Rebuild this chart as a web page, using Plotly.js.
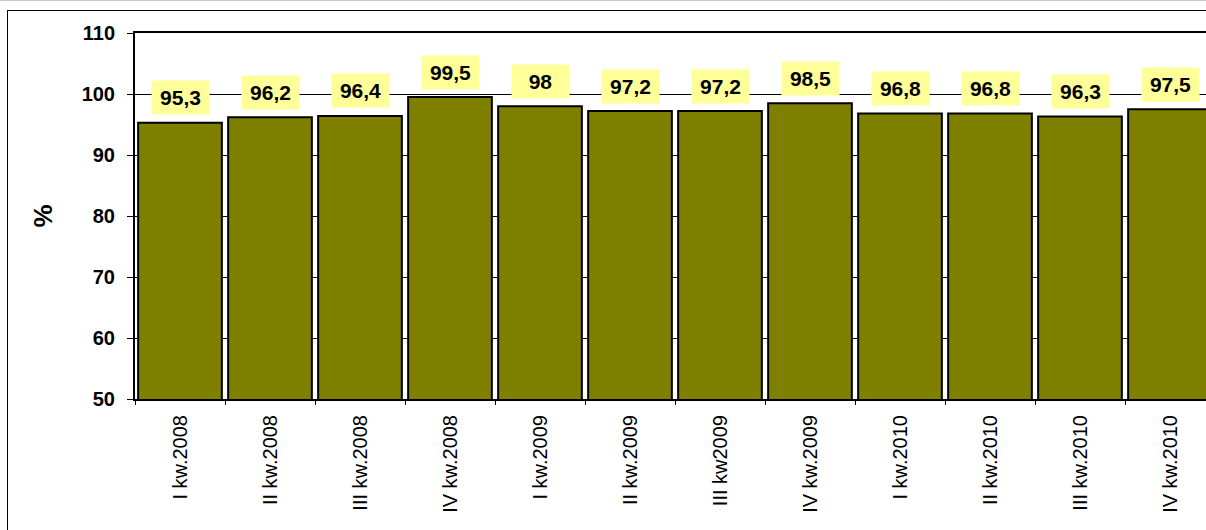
<!DOCTYPE html>
<html>
<head>
<meta charset="utf-8">
<script src="https://cdn.plot.ly/plotly-3.0.1.min.js"></script>
<style>
html, body { margin: 0; padding: 0; width: 1206px; height: 530px; overflow: hidden; background: #fff; }
#topline { position: absolute; left: 0; top: 0; width: 1206px; height: 1px; background: #c8c8c8; }
#frame { position: absolute; left: 7px; top: 10px; width: 1300px; height: 600px; border-left: 1.5px solid #000; border-top: 1.5px solid #000; }
#chart { position: absolute; left: 0; top: 0; width: 1230px; height: 530px; }
</style>
</head>
<body>
<div id="topline"></div>
<div id="frame"></div>
<div id="chart"></div>
<script>
const categories = ["I kw.2008", "II kw.2008", "III kw.2008", "IV kw.2008",
                    "I kw.2009", "II kw.2009", "III kw2009", "IV kw.2009",
                    "I kw.2010", "II kw.2010", "III kw.2010", "IV kw.2010"];
const values = [95.3, 96.2, 96.4, 99.5, 98, 97.2, 97.2, 98.5, 96.8, 96.8, 96.3, 97.5];
const yTicks = [50, 60, 70, 80, 90, 100, 110];
const yAxisTitle = "%";

const fmt = v => String(v).replace(".", ",");

const trace = {
  type: "bar",
  x: categories,
  y: values,
  marker: { color: "#808000", line: { color: "#000000", width: 2 } },
  hoverinfo: "skip"
};

const annotations = categories.map((c, i) => ({
  x: c, y: values[i], xref: "x", yref: "y",
  text: "<b>" + fmt(values[i]) + "</b>",
  showarrow: false,
  yanchor: "middle", xanchor: "center",
  yshift: 25,
  bgcolor: "#FFFF99",
  borderpad: 5,
  width: 47, height: 23,
  font: { family: "Liberation Sans, Arial, sans-serif", size: 21, color: "#000" }
}));

const layout = {
  width: 1230, height: 530,
  margin: { l: 135, r: 15, t: 33, b: 131 },
  paper_bgcolor: "rgba(0,0,0,0)",
  plot_bgcolor: "rgba(0,0,0,0)",
  showlegend: false,
  bargap: 0.07,
  font: { family: "Liberation Sans, Arial, sans-serif", color: "#000" },
  xaxis: {
    type: "category",
    range: [-0.5, 11.5],
    tickangle: -90,
    tickfont: { size: 20, family: "Liberation Sans, Arial, sans-serif", color: "#000" },
    showline: true, linecolor: "#000", linewidth: 2, mirror: true,
    ticks: "outside", ticklen: 4, tickcolor: "#000", tickwidth: 1,
    tickson: "boundaries",
    ticklabelstandoff: 6,
    showgrid: false, zeroline: false, fixedrange: true
  },
  yaxis: {
    range: [50, 110],
    tickvals: yTicks,
    ticktext: yTicks.map(v => "<b>" + v + "</b>"),
    tickfont: { size: 20, family: "Liberation Sans, Arial, sans-serif", color: "#000" },
    showline: true, linecolor: "#000", linewidth: 2, mirror: true,
    ticks: "outside", ticklen: 6, tickcolor: "#000", tickwidth: 1,
    ticklabelstandoff: 8,
    showgrid: true, gridcolor: "#000", gridwidth: 1,
    zeroline: false, fixedrange: true,
    title: { text: "<b>" + yAxisTitle + "</b>", font: { size: 26, family: "Liberation Sans, Arial, sans-serif", color: "#000" }, standoff: 22 }
  },
  annotations: annotations
};

Plotly.newPlot("chart", [trace], layout, { displayModeBar: false, staticPlot: true });
</script>
</body>
</html>
